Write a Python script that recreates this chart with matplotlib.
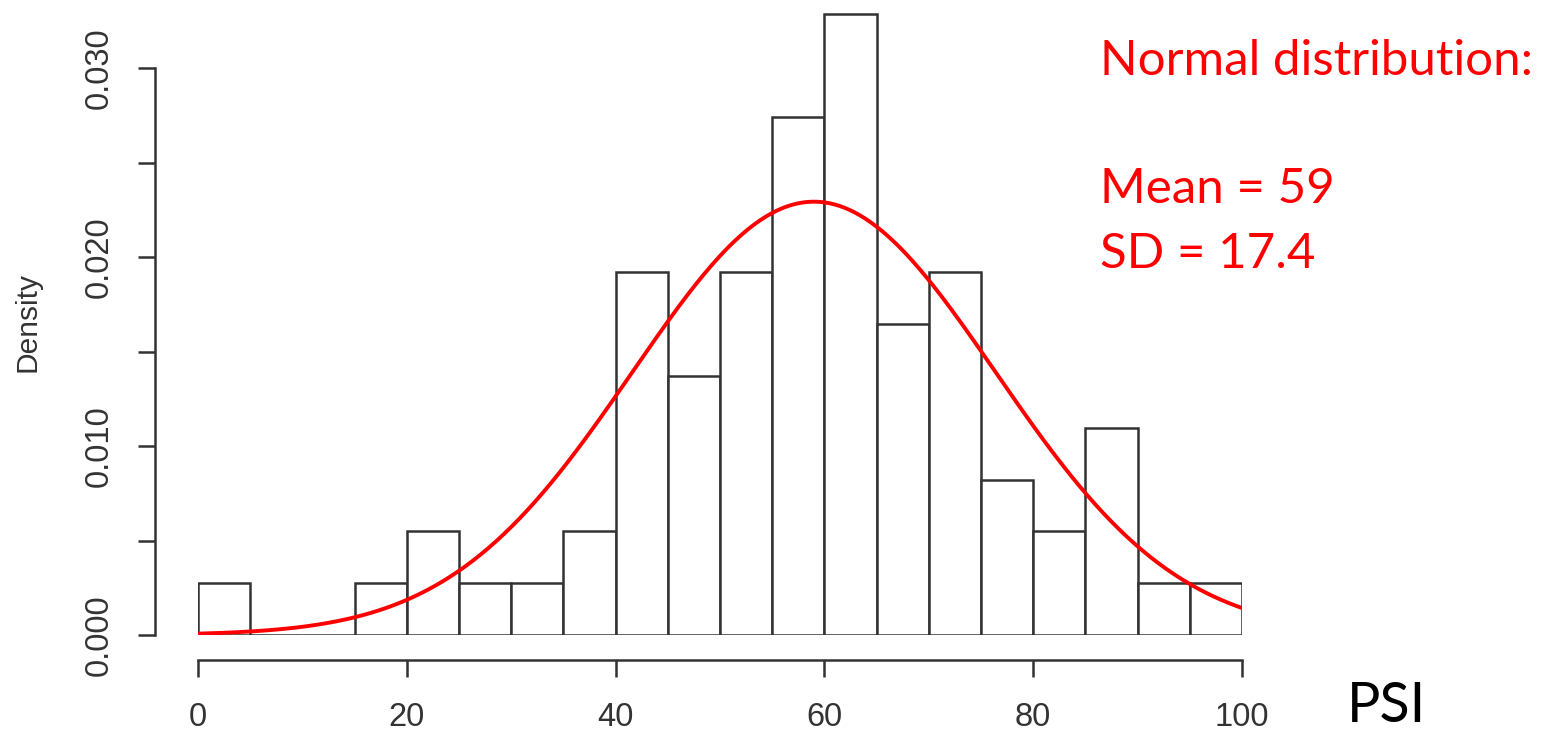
import numpy as np
import matplotlib
matplotlib.use("Agg")
import matplotlib.pyplot as plt

# histogram bins (PSI) and densities
bin_edges = [0, 5, 10, 15, 20, 25, 30, 35, 40, 45, 50, 55, 60, 65, 70, 75, 80, 85, 90, 95, 100]
densities = [0.00274, 0.0, 0.0, 0.00274, 0.00548, 0.00274, 0.00274, 0.00548, 0.01918, 0.0137,
             0.01918, 0.0274, 0.03288, 0.01644, 0.01918, 0.00822, 0.00548, 0.01096, 0.00274, 0.00274]

# fitted normal distribution
mean = 59
sd = 17.4

x_ticks = [0, 20, 40, 60, 80, 100]
y_ticks = [0.000, 0.005, 0.010, 0.015, 0.020, 0.025, 0.030]
y_labels = ["0.000", "", "0.010", "", "0.020", "", "0.030"]

W, H = 1552, 731
fig = plt.figure(figsize=(W / 100, H / 100), dpi=100)
ax = fig.add_axes([198 / W, (H - 635) / H, (1242 - 198) / W, 635 / H])

edges = np.array(bin_edges)
ax.bar(edges[:-1], densities, width=np.diff(edges), align="edge",
       facecolor="white", edgecolor="#333333", linewidth=1.8)

xs = np.linspace(0, 100, 400)
ys = np.exp(-0.5 * ((xs - mean) / sd) ** 2) / (sd * np.sqrt(2 * np.pi))
ax.plot(xs, ys, color="red", linewidth=2.8)

ax.set_xlim(0, 100)
ax.set_ylim(0, 0.030 * 635 / 567)

for s in ["top", "right"]:
    ax.spines[s].set_visible(False)
ax.spines["left"].set_position(("outward", 31))
ax.spines["bottom"].set_position(("outward", 18))
ax.spines["left"].set_bounds(0, 0.030)
ax.spines["bottom"].set_bounds(0, 100)
for s in ["left", "bottom"]:
    ax.spines[s].set_color("#333333")
    ax.spines[s].set_linewidth(1.8)

ax.set_xticks(x_ticks)
ax.set_yticks(y_ticks)
ax.set_yticklabels(y_labels, rotation=90, va="center")
ax.tick_params(axis="both", length=12, width=1.8, color="#333333",
               labelsize=23.5, labelcolor="#333333")
ax.tick_params(axis="y", pad=17)
ax.tick_params(axis="x", pad=18)
for lbl in ax.get_xticklabels() + ax.get_yticklabels():
    lbl.set_family("Liberation Sans")

fig.text(27 / W, 1 - 322 / H, "Density", rotation=90, ha="center", va="center",
         fontsize=21.5, color="#333333", family="Liberation Sans")

fig.text(1100 / W, 1 - 75 / H, "Normal distribution:", color="red",
         fontsize=35.5, family="Lato", va="baseline")
fig.text(1100 / W, 1 - 203 / H, "Mean = 59", color="red",
         fontsize=35.5, family="Lato", va="baseline")
fig.text(1100 / W, 1 - 268 / H, "SD = 17.4", color="red",
         fontsize=35.5, family="Lato", va="baseline")
fig.text(1347 / W, 1 - 722 / H, "PSI", color="black",
         fontsize=40, family="Lato", va="baseline")

fig.savefig("out.png", dpi=100)
